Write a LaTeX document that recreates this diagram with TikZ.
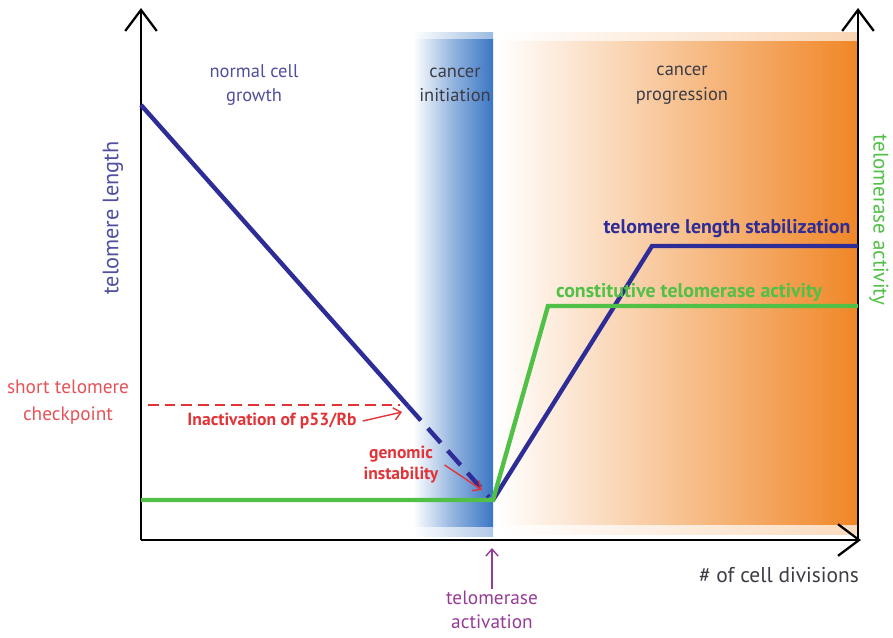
\documentclass[tikz,border=0pt]{standalone}
\usepackage{fontspec}
\setmainfont{PT Sans}
\usetikzlibrary{arrows.meta,positioning}

\definecolor{lenblue}{RGB}{46,44,150}
\definecolor{labblue}{RGB}{80,78,160}
\definecolor{actgreen}{RGB}{80,192,70}
\definecolor{chkred}{RGB}{226,52,56}
\definecolor{actpurple}{RGB}{150,60,150}
\definecolor{phasegray}{RGB}{60,60,70}
\definecolor{bandblue}{RGB}{58,118,196}
\definecolor{bandorange}{RGB}{240,134,38}

\tikzset{
    axis/.style={line width=1.3pt, -{Straight Barb[length=12pt,width=18pt,line width=1.3pt]}},
    curve/.style={line width=2.5pt, line join=miter},
    phase/.style={align=center, text=phasegray, font=\fontsize{10.5}{14}\selectfont},
    note/.style={align=center, font=\bfseries\fontsize{10}{12}\selectfont},
    level/.style={align=center, font=\bfseries\fontsize{11.3}{13}\selectfont},
    pointer/.style={line width=0.8pt, -{Straight Barb[length=4pt,width=7pt]}}
}

\begin{document}
\begin{tikzpicture}[x=0.02cm, y=-0.02cm]
    \useasboundingbox (0,0) rectangle (893,637);

    % phase bands
    \shade[left color=white, right color=bandblue, middle color=bandblue!55] (413,38) rectangle (493,527);
    \shade[left color=white, right color=bandblue!40] (413,527) rectangle (493,536);
    \shade[left color=white, right color=bandblue!50] (413,32) rectangle (493,38);
    \shade[left color=white, right color=bandorange, middle color=bandorange!50] (497,40) rectangle (858,525);
    \shade[left color=white, right color=bandorange!35] (497,32) rectangle (858,40);
    \shade[left color=white, right color=bandorange!30] (497,525) rectangle (858,534);

    % axes
    \coordinate (origin) at (141,540);
    \coordinate (ytop) at (141,8);
    \coordinate (xend) at (861,540);
    \coordinate (rbase) at (858,540);
    \coordinate (rtop) at (858,8);
    \draw[axis] (origin) -- (ytop);
    \draw[axis] (origin) -- (xend);
    \draw[axis] (rbase) -- (rtop);

    % telomere length
    \coordinate (start) at (141,105);
    \coordinate (check) at (408,406);
    \coordinate (crisis) at (489,497);
    \coordinate (turn) at (493,500);
    \coordinate (stable) at (652,246);
    \coordinate (lenend) at (858,246);
    \draw[curve, lenblue] (start) -- (check);
    \draw[curve, lenblue, dash pattern=on 11pt off 6pt] (check) -- (crisis);
    \draw[curve, lenblue] (turn) -- (stable) -- (lenend);

    % telomerase activity
    \coordinate (low) at (141,500);
    \coordinate (rise) at (548,306);
    \coordinate (actend) at (858,306);
    \draw[curve, actgreen] (low) -- (turn) -- (rise) -- (actend);

    % checkpoint level
    \coordinate (chkleft) at (148,405);
    \coordinate (chkright) at (400,405);
    \draw[chkred, line width=1.4pt, dash pattern=on 6pt off 3.5pt] (chkleft) -- (chkright);

    % phases
    \node[phase, text=labblue] (normal) at (254,85) {normal cell\\growth};
    \node[phase] (init) at (455,85) {cancer\\initiation};
    \node[phase] (prog) at (682,85) {cancer\\progression};

    % axis titles
    \node[rotate=90, text=labblue, font=\fontsize{12.7}{14}\selectfont] (ylen) at (113,218) {telomere length};
    \node[rotate=-90, text=actgreen, font=\fontsize{12}{14}\selectfont] (yact) at (879,220) {telomerase activity};
    \node[text=phasegray, font=\fontsize{12.2}{14}\selectfont] (divisions) at (779,575) {\# of cell divisions};

    % annotations
    \node[phase, text=chkred!85, font=\fontsize{11}{15}\selectfont] (checkpoint) at (68,402) {short telomere\\checkpoint};
    \node[note, text=chkred] (p53) at (272,421) {Inactivation of p53/Rb};
    \node[note, text=chkred] (genomic) at (401,465) {genomic\\instability};
    \node[level, text=lenblue] (stab) at (727,229) {telomere length stabilization};
    \node[level, text=actgreen] (const) at (689,292) {constitutive telomerase activity};
    \node[phase, text=actpurple, font=\fontsize{11}{13.5}\selectfont, inner sep=1pt] (activation) at (492,610) {telomerase\\activation};

    \draw[pointer, chkred] (p53.east) -- (402,412);
    \draw[pointer, chkred] (genomic.east) -- (482,490);
    \draw[pointer, actpurple] (activation.north) -- (492,548);
\end{tikzpicture}
\end{document}
